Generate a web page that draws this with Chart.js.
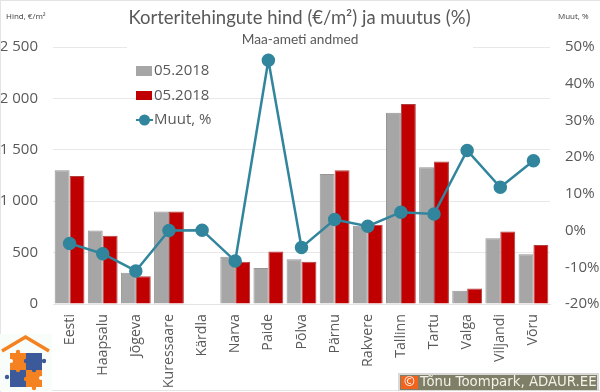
<!DOCTYPE html>
<html><head><meta charset="utf-8">
<style>html,body{margin:0;padding:0;background:#fff}#w{width:600px;height:392px;position:relative}</style>
<script src="https://cdn.jsdelivr.net/npm/chart.js@4"></script></head>
<body><div id="w"><canvas id="c" width="600" height="392"></canvas></div>
<script>
const categories=["Eesti","Haapsalu","Jõgeva","Kuressaare","Kärdla","Narva","Paide","Põlva","Pärnu","Rakvere","Tallinn","Tartu","Valga","Viljandi","Võru"];
const priceA=[1300,715,305,900,0,460,350,435,1265,760,1860,1330,130,640,485];
const priceB=[1245,665,270,900,0,410,510,410,1300,770,1945,1385,150,705,575];
const change=[-3.5,-6.3,-11,0,0.1,-8.3,46.4,-4.6,3,1.2,5,4.5,21.8,11.8,19];
const leftTicks=[0,500,1000,1500,2000,2500];
const rightTicks=[-20,-10,0,10,20,30,40,50];
const FONT='"Open Sans"';const TXT='#595959';
function tab(g,x,y,r){g.beginPath();g.arc(x,y,r,0,7);g.fill();}
const deco={id:'deco',
 beforeDatasetsDraw(ch){const g=ch.ctx;g.save();g.fillStyle='#fff';g.fillRect(127,40,346,14);g.restore();},
 afterDraw(ch){const g=ch.ctx;g.save();
  // frame
  g.strokeStyle='#e4e4e4';g.lineWidth=1;g.beginPath();g.moveTo(.5,0);g.lineTo(.5,392);g.moveTo(0,.5);g.lineTo(600,.5);g.moveTo(0,390.5);g.lineTo(600,390.5);g.stroke();
  // titles
  g.fillStyle=TXT;g.textBaseline='middle';g.textAlign='center';
  g.font='18.5px Lato';g.fillText('Korteritehingute hind (€/m²) ja muutus (%)',299.5,18);
  g.font='13.7px Lato';g.fillText('Maa-ameti andmed',300,39.5);
  g.textAlign='left';g.fillStyle='#404040';g.font='8px '+FONT;g.fillText('Hind, €/m²',6,17);g.fillText('Muut, %',558,17);
  // legend
  const ds=ch.data.datasets;g.font='15px '+FONT;
  g.fillStyle='#a6a6a6';g.fillRect(136,66,16,10);g.fillStyle=TXT;g.fillText(ds[0].label,154,71);
  g.fillStyle='#c00000';g.fillRect(136,91,16,9);g.fillStyle=TXT;g.fillText(ds[1].label,154,95.5);
  g.strokeStyle='#31859c';g.lineWidth=2;g.beginPath();g.moveTo(136,120);g.lineTo(153,120);g.stroke();
  g.fillStyle='#31859c';g.beginPath();g.arc(144.5,120,5.5,0,7);g.fill();g.fillStyle=TXT;g.fillText(ds[2].label,154,120);
  // logo
  g.fillStyle='#f9fdf9';g.fillRect(0,334,52,57);
  g.strokeStyle='#f58220';g.lineWidth=3.5;g.beginPath();g.moveTo(2,351);g.lineTo(25.5,337);g.lineTo(49,351);g.stroke();
  const O='#f58220',B='#3c5a99';
  g.fillStyle=O;g.fillRect(10,353,16,17);g.fillRect(26,370,16,17);tab(g,18,352,2.2);tab(g,34,388,2.2);
  g.fillStyle=B;g.fillRect(26,353,16,17);g.fillRect(10,370,16,17);tab(g,44,361,2.2);tab(g,7,377,2.2);
  g.fillStyle=O;tab(g,26,379,2.2);g.fillStyle=B;tab(g,26,361,2.2);tab(g,34,370,2.2);g.fillStyle=O;tab(g,18,370,2.2);
  g.fillStyle='#fff';tab(g,11,361,2);tab(g,41,378,2);
  // copyright
  g.fillStyle='#d9d9d9';g.fillRect(398,373,201,18);
  g.fillStyle='#7f7f68';g.fillRect(400,375,197,15);
  g.fillStyle='#f2641e';g.fillRect(401,376,17,13);
  g.fillStyle='#fff';g.textAlign='center';g.font='13px '+FONT;g.fillText('©',409.5,382.5);
  g.textAlign='left';g.fillStyle='#f2f2e8';g.font='13.3px "DejaVu Sans"';g.fillText('Tõnu Toompark, ADAUR.EE',420,382.5);
  g.restore();}};
new Chart(document.getElementById('c'),{
 data:{labels:categories,datasets:[
  {type:'bar',label:'05.2018',data:priceA,yAxisID:'y',order:1,backgroundColor:'#a6a6a6',borderColor:'#969696',borderWidth:1,categoryPercentage:.9,barPercentage:1},
  {type:'bar',label:'05.2018',data:priceB,yAxisID:'y',order:2,backgroundColor:'#c00000',borderColor:'#b04040',borderWidth:1,categoryPercentage:.9,barPercentage:1},
  {type:'line',label:'Muut, %',data:change,yAxisID:'y2',order:0,borderColor:'#31859c',backgroundColor:'#31859c',borderWidth:2.5,pointRadius:5.5,pointBackgroundColor:'#31859c',pointBorderColor:'#31859c',tension:0}
 ]},
 plugins:[deco],
 options:{responsive:false,animation:false,
  layout:{padding:{left:0,right:0,top:47,bottom:0}},
  plugins:{legend:{display:false},title:{display:false},tooltip:{enabled:false}},
  scales:{
   x:{grid:{display:false},border:{color:'#e4e4e4'},ticks:{color:TXT,font:{family:FONT,size:14.2},maxRotation:90,minRotation:90,padding:2,autoSkip:false},afterFit(s){s.height=88}},
   y:{position:'left',min:0,max:2500,grid:{color:'#e8e8e8',drawTicks:false},border:{display:false},
      afterBuildTicks(s){s.ticks=leftTicks.map(v=>({value:v}))},
      ticks:{color:TXT,font:{family:FONT,size:15},padding:15,callback:v=>String(v).replace(/(\d)(\d{3})$/,'$1 $2')},afterFit(s){s.width=53}},
   y2:{position:'right',min:-20,max:50,grid:{display:false,drawTicks:false},border:{display:false},
      afterBuildTicks(s){s.ticks=rightTicks.map(v=>({value:v}))},
      ticks:{color:TXT,font:{family:FONT,size:15},padding:15,callback:v=>v+'%'},afterFit(s){s.width=50}}
  }}
});
</script></body></html>
